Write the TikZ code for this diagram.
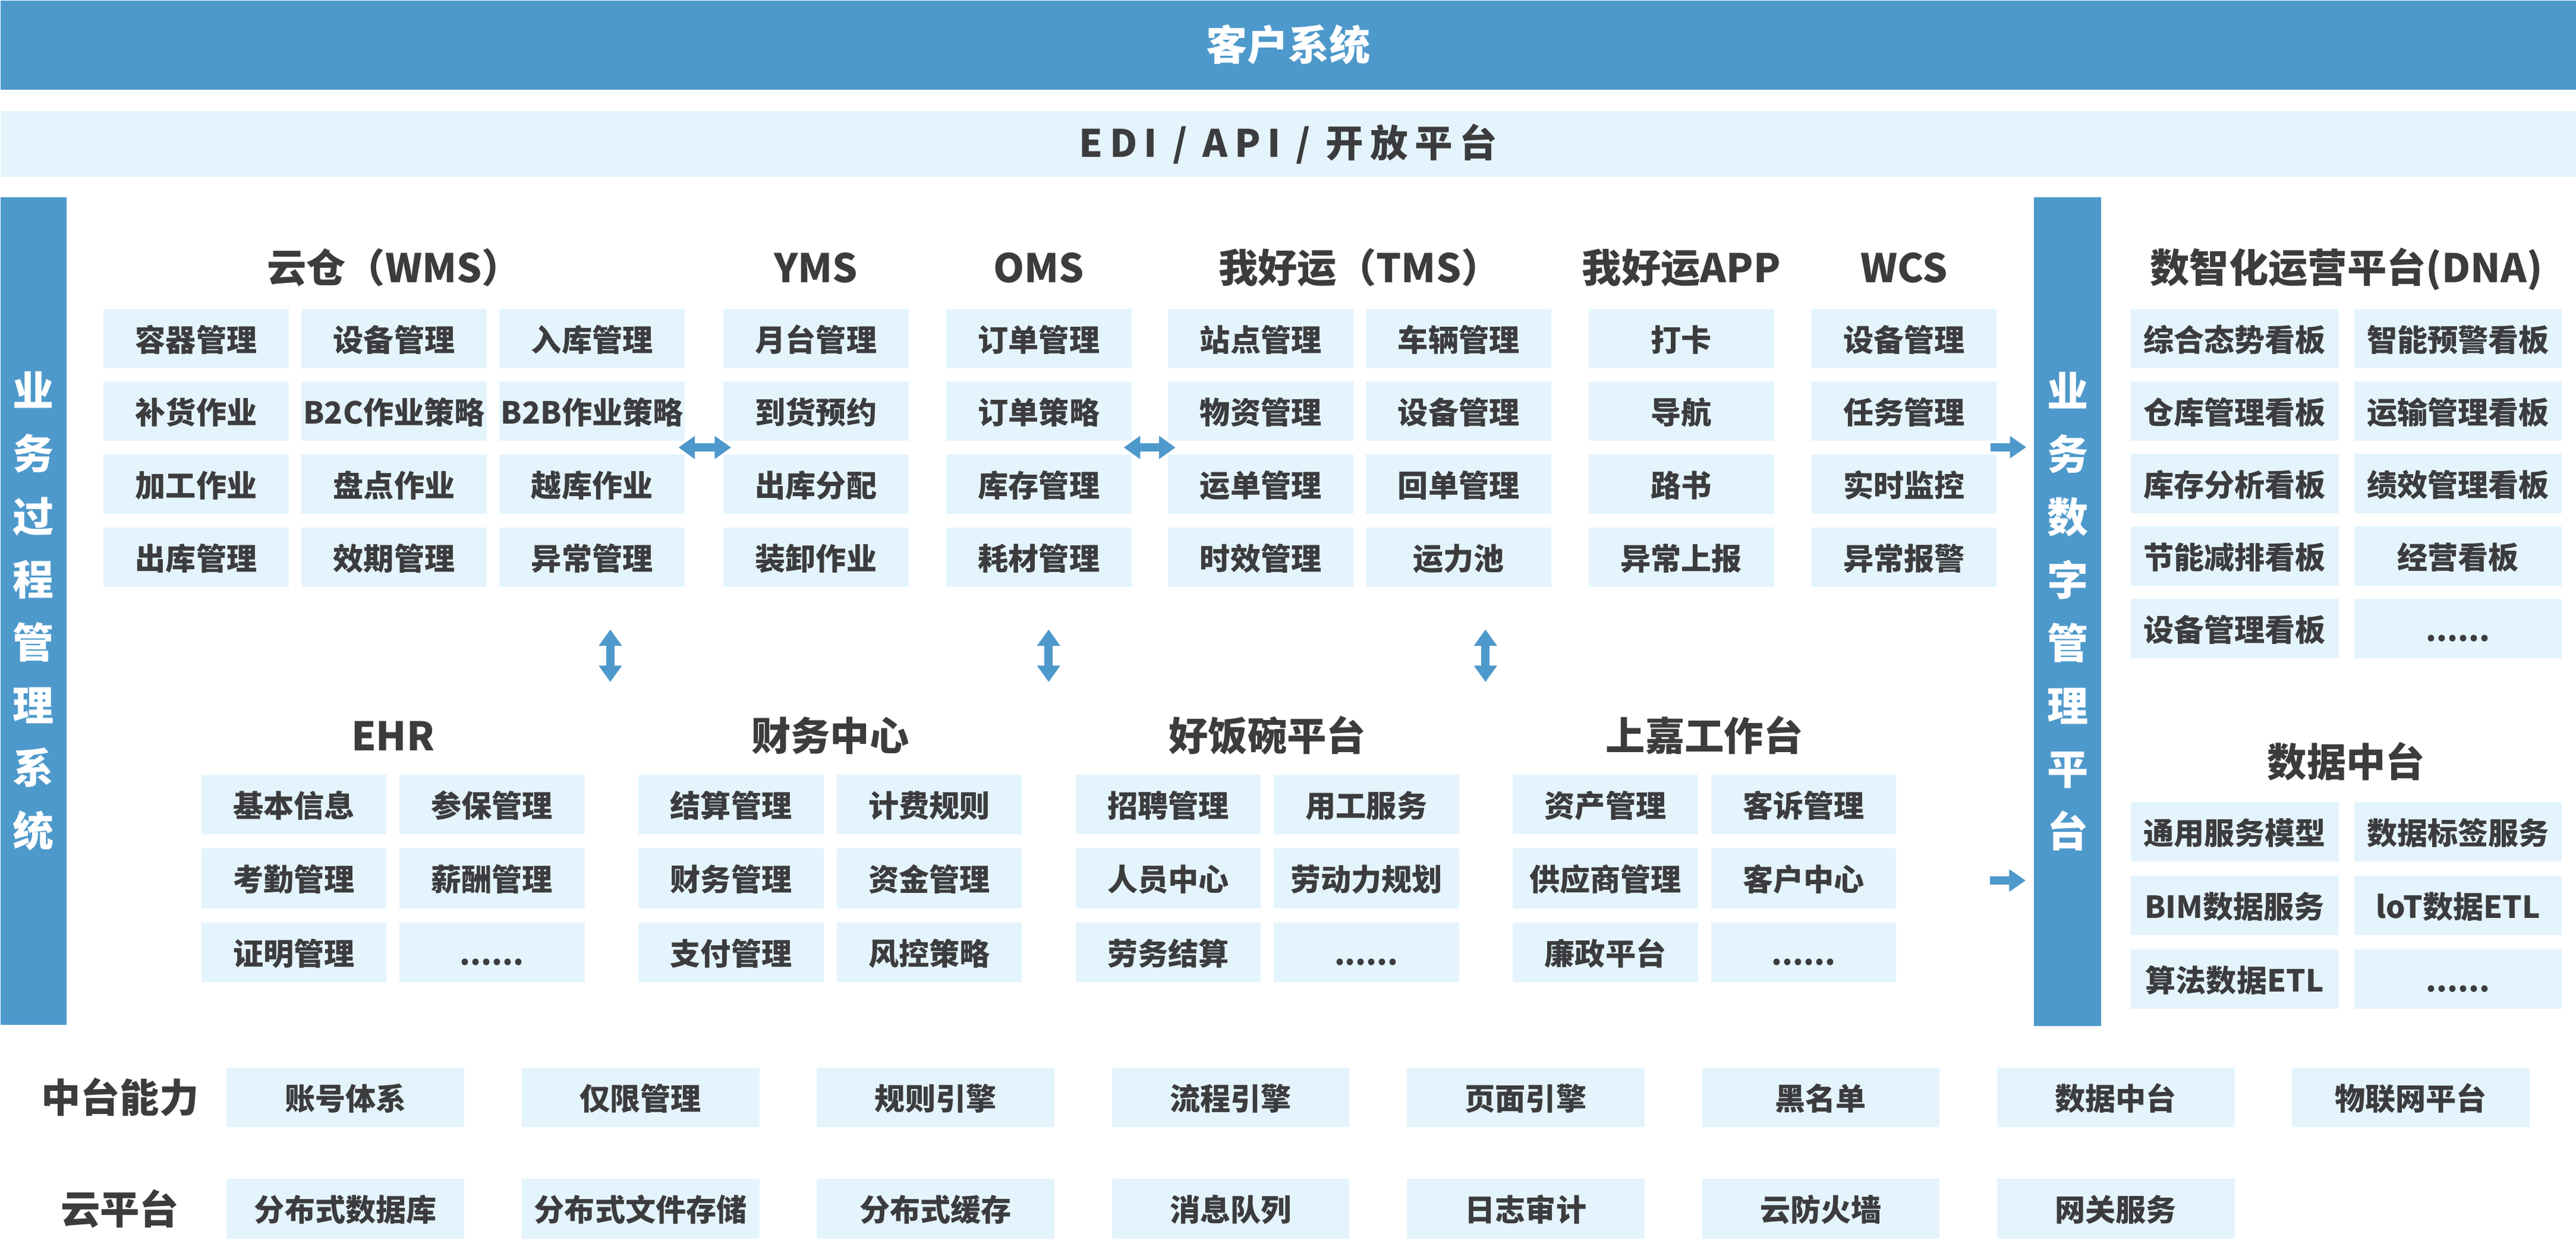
\documentclass[tikz,border=0pt]{standalone}
\usepackage{fontspec}
\setmainfont{Noto Sans CJK SC}
\usetikzlibrary{arrows.meta,positioning}
\definecolor{barblue}{HTML}{4E99CB}
\definecolor{cellblue}{HTML}{E4F4FD}
\definecolor{txtgray}{HTML}{3C3C3E}
\tikzset{
 cell/.style={fill=cellblue, minimum width=112.7pt, minimum height=36.2pt, inner sep=0pt,
   text height=15.5pt, text depth=0pt, text=txtgray, font=\fontsize{18.5}{20}\selectfont\bfseries},
 wcell/.style={cell, minimum width=126.5pt},
 bcell/.style={cell, minimum width=144.6pt, minimum height=36.3pt},
 ttl/.style={anchor=base, inner sep=0pt, text=txtgray, font=\fontsize{24}{26}\selectfont\bfseries},
 bar/.style={fill=barblue, inner sep=0pt, anchor=north west},
 vtext/.style={text=white, align=center, font=\fontsize{25}{38.3}\selectfont\bfseries},
 fatarrow/.style={draw=barblue, line width=5pt, -{Triangle[length=10pt,width=13pt]}},
 fatdbl/.style={draw=barblue, line width=5pt, {Triangle[length=10pt,width=13.5pt]}-{Triangle[length=10pt,width=13.5pt]}}
}

\begin{document}
\begin{tikzpicture}[x=1pt,y=-1pt]
% ==========================================
\useasboundingbox (0,0) rectangle (1568,761.2);
\fill[white] (0,0) rectangle (1568,761.2);
%
\node[bar, minimum width=1568pt, minimum height=54.3pt, text=white,
  font=\fontsize{25}{27}\selectfont\bfseries] (kh) at (0,0) {客户系统};
\node[bar, fill=cellblue, minimum width=1568pt, minimum height=40.3pt, text=txtgray,
  font=\fontsize{23}{25}\selectfont\bfseries\addfontfeature{LetterSpace=18}] (edi) at (0,67.4) {EDI / API / 开放平台};
%
\node[bar, minimum width=40.5pt, minimum height=504pt] (lbar) at (0,120) {};
\node[vtext] (ltxt) at (lbar.center) {业\\务\\过\\程\\管\\理\\系\\统};
\node[bar, minimum width=40.6pt, minimum height=504.5pt] (mbar) at (1238,120) {};
\node[vtext] (mtxt) at (mbar.center) {业\\务\\数\\字\\管\\理\\平\\台};
% =============================================
% upper titles
\node[ttl] (twms) at (239.9,172) {云仓（WMS）};
\node[ttl] (tyms) at (496.7,172) {YMS};
\node[ttl] (toms) at (632.4,172) {OMS};
\node[ttl] (ttms) at (827.6,172) {我好运（TMS）};
\node[ttl] (tapp) at (1023.4,172) {我好运APP};
\node[ttl] (twcs) at (1159,172) {WCS};
%
\node[cell] (w11) at (119.4,206.1) {容器管理};
\node[cell] (w12) at (239.9,206.1) {设备管理};
\node[cell] (w13) at (360.4,206.1) {入库管理};
\node[cell] (w21) at (119.4,250.5) {补货作业};
\node[cell] (w22) at (239.9,250.5) {B2C作业策略};
\node[cell] (w23) at (360.4,250.5) {B2B作业策略};
\node[cell] (w31) at (119.4,294.9) {加工作业};
\node[cell] (w32) at (239.9,294.9) {盘点作业};
\node[cell] (w33) at (360.4,294.9) {越库作业};
\node[cell] (w41) at (119.4,339.3) {出库管理};
\node[cell] (w42) at (239.9,339.3) {效期管理};
\node[cell] (w43) at (360.4,339.3) {异常管理};
%
\node[cell] (y1) at (496.7,206.1) {月台管理};
\node[cell] (y2) at (496.7,250.5) {到货预约};
\node[cell] (y3) at (496.7,294.9) {出库分配};
\node[cell] (y4) at (496.7,339.3) {装卸作业};
%
\node[cell] (o1) at (632.4,206.1) {订单管理};
\node[cell] (o2) at (632.4,250.5) {订单策略};
\node[cell] (o3) at (632.4,294.9) {库存管理};
\node[cell] (o4) at (632.4,339.3) {耗材管理};
%
\node[cell] (t11) at (767.4,206.1) {站点管理};
\node[cell] (t12) at (887.9,206.1) {车辆管理};
\node[cell] (t21) at (767.4,250.5) {物资管理};
\node[cell] (t22) at (887.9,250.5) {设备管理};
\node[cell] (t31) at (767.4,294.9) {运单管理};
\node[cell] (t32) at (887.9,294.9) {回单管理};
\node[cell] (t41) at (767.4,339.3) {时效管理};
\node[cell] (t42) at (887.9,339.3) {运力池};
%
\node[cell] (p1) at (1023.4,206.1) {打卡};
\node[cell] (p2) at (1023.4,250.5) {导航};
\node[cell] (p3) at (1023.4,294.9) {路书};
\node[cell] (p4) at (1023.4,339.3) {异常上报};
%
\node[cell] (c1) at (1159,206.1) {设备管理};
\node[cell] (c2) at (1159,250.5) {任务管理};
\node[cell] (c3) at (1159,294.9) {实时监控};
\node[cell] (c4) at (1159,339.3) {异常报警};
% =============================================
% lower titles
\node[ttl] (tehr) at (239.2,457) {EHR};
\node[ttl] (tfin) at (505.3,457) {财务中心};
\node[ttl] (thfw) at (771.4,457) {好饭碗平台};
\node[ttl] (tsj) at (1037.5,457) {上嘉工作台};
%
\node[cell] (e11) at (178.9,489.9) {基本信息};
\node[cell] (e12) at (299.5,489.9) {参保管理};
\node[cell] (e21) at (178.9,534.9) {考勤管理};
\node[cell] (e22) at (299.5,534.9) {薪酬管理};
\node[cell] (e31) at (178.9,579.8) {证明管理};
\node[cell] (e32) at (299.5,579.8) {......};
%
\node[cell] (f11) at (445,489.9) {结算管理};
\node[cell] (f12) at (565.6,489.9) {计费规则};
\node[cell] (f21) at (445,534.9) {财务管理};
\node[cell] (f22) at (565.6,534.9) {资金管理};
\node[cell] (f31) at (445,579.8) {支付管理};
\node[cell] (f32) at (565.6,579.8) {风控策略};
%
\node[cell] (h11) at (711.1,489.9) {招聘管理};
\node[cell] (h12) at (831.7,489.9) {用工服务};
\node[cell] (h21) at (711.1,534.9) {人员中心};
\node[cell] (h22) at (831.7,534.9) {劳动力规划};
\node[cell] (h31) at (711.1,579.8) {劳务结算};
\node[cell] (h32) at (831.7,579.8) {......};
%
\node[cell] (s11) at (977.2,489.9) {资产管理};
\node[cell] (s12) at (1097.8,489.9) {客诉管理};
\node[cell] (s21) at (977.2,534.9) {供应商管理};
\node[cell] (s22) at (1097.8,534.9) {客户中心};
\node[cell] (s31) at (977.2,579.8) {廉政平台};
\node[cell] (s32) at (1097.8,579.8) {......};
% =============================================
% right side
\node[ttl] (tdna) at (1428.2,172) {数智化运营平台(DNA)};
\node[wcell] (d11) at (1360.2,206.1) {综合态势看板};
\node[wcell] (d12) at (1496.2,206.1) {智能预警看板};
\node[wcell] (d21) at (1360.2,250.3) {仓库管理看板};
\node[wcell] (d22) at (1496.2,250.3) {运输管理看板};
\node[wcell] (d31) at (1360.2,294.5) {库存分析看板};
\node[wcell] (d32) at (1496.2,294.5) {绩效管理看板};
\node[wcell] (d41) at (1360.2,338.7) {节能减排看板};
\node[wcell] (d42) at (1496.2,338.7) {经营看板};
\node[wcell] (d51) at (1360.2,382.9) {设备管理看板};
\node[wcell] (d52) at (1496.2,382.9) {......};
%
\node[ttl] (tsjzt) at (1428.2,473) {数据中台};
\node[wcell] (z11) at (1360.2,506.5) {通用服务模型};
\node[wcell] (z12) at (1496.2,506.5) {数据标签服务};
\node[wcell] (z21) at (1360.2,551.3) {BIM数据服务};
\node[wcell] (z22) at (1496.2,551.3) {loT数据ETL};
\node[wcell] (z31) at (1360.2,596.1) {算法数据ETL};
\node[wcell] (z32) at (1496.2,596.1) {......};
% =============================================
% bottom rows
\node[ttl, anchor=center] (lzt) at (73,668.2) {中台能力};
\node[bcell] (m1) at (210.3,668.2) {账号体系};
\node[bcell] (m2) at (389.9,668.2) {仅限管理};
\node[bcell] (m3) at (569.5,668.2) {规则引擎};
\node[bcell] (m4) at (749.1,668.2) {流程引擎};
\node[bcell] (m5) at (928.7,668.2) {页面引擎};
\node[bcell] (m6) at (1108.3,668.2) {黑名单};
\node[bcell] (m7) at (1287.9,668.2) {数据中台};
\node[bcell] (m8) at (1467.5,668.2) {物联网平台};
%
\node[ttl, anchor=center] (lyp) at (73,736) {云平台};
\node[bcell] (k1) at (210.3,736) {分布式数据库};
\node[bcell] (k2) at (389.9,736) {分布式文件存储};
\node[bcell] (k3) at (569.5,736) {分布式缓存};
\node[bcell] (k4) at (749.1,736) {消息队列};
\node[bcell] (k5) at (928.7,736) {日志审计};
\node[bcell] (k6) at (1108.3,736) {云防火墙};
\node[bcell] (k7) at (1287.9,736) {网关服务};
% =============================================
% arrows
\coordinate (a1) at (413,272.5);
\coordinate (a2) at (445,272.5);
\coordinate (b1) at (684,272.5);
\coordinate (b2) at (715.5,272.5);
\coordinate (r1) at (1211.6,272.3);
\coordinate (r2) at (1233.4,272.3);
\coordinate (r3) at (1211.2,536.2);
\coordinate (r4) at (1233,536.2);
\coordinate (v1) at (371.5,383.3);
\coordinate (v2) at (371.5,415.3);
\coordinate (v3) at (638.3,383.3);
\coordinate (v4) at (638.3,415.3);
\coordinate (v5) at (904.2,383.3);
\coordinate (v6) at (904.2,415.3);
\draw[fatdbl] (a1) -- (a2);%WMS-YMS.
\draw[fatdbl] (b1) -- (b2);%OMS-TMS.
\draw[fatarrow] (r1) -- (r2);%Arrow.
\draw[fatarrow] (r3) -- (r4);%Arrow.
\draw[fatdbl] (v1) -- (v2);
\draw[fatdbl] (v3) -- (v4);
\draw[fatdbl] (v5) -- (v6);
% =============================================
\end{tikzpicture}
\end{document}
